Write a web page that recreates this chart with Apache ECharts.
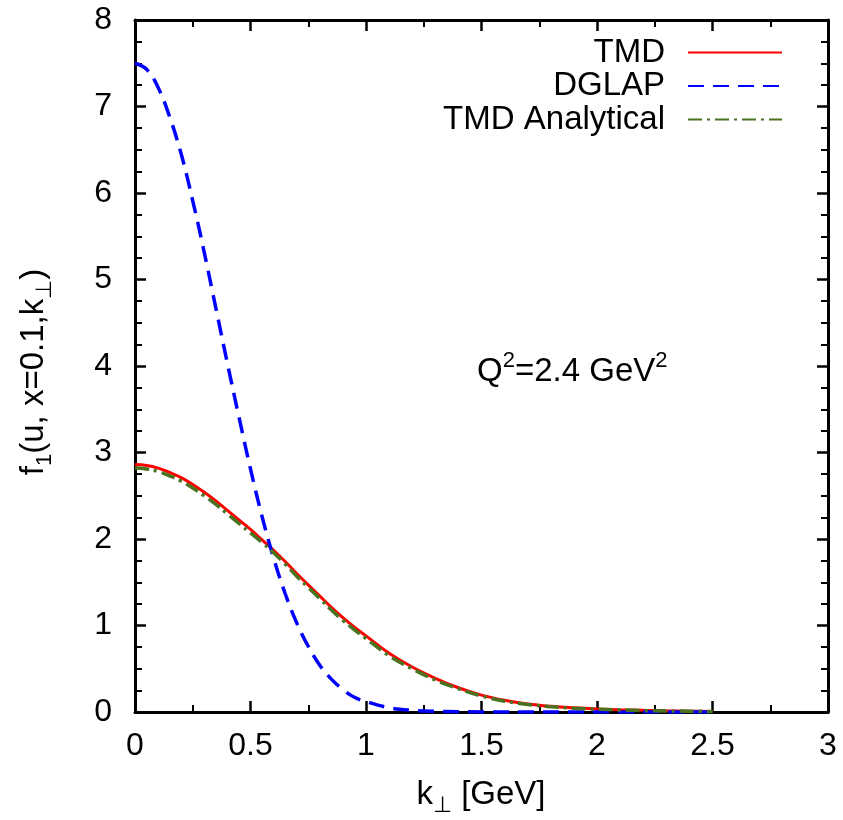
<!DOCTYPE html>
<html>
<head>
<meta charset="utf-8">
<script src="https://cdn.jsdelivr.net/npm/echarts@6/dist/echarts.min.js"></script>
<style>
html,body{margin:0;padding:0;background:#fff;}
#chart{width:843px;height:820px;}
</style>
</head>
<body>
<div id="chart"></div>
<script>
// k_perp values [GeV]
const kVals = [0,0.05,0.1,0.15,0.2,0.25,0.3,0.35,0.4,0.45,0.5,0.55,0.6,0.65,0.7,0.75,0.8,0.85,0.9,0.95,1.0,
               1.1,1.2,1.3,1.4,1.5,1.6,1.7,1.8,1.9,2.0,2.1,2.2,2.3,2.4,2.5];
// TMD (red solid)
const tmdVals = [2.86,2.85,2.82,2.77,2.71,2.63,2.54,2.44,2.33,2.22,2.11,1.99,1.87,1.74,1.60,1.47,1.34,1.21,1.09,0.98,0.88,
                 0.68,0.52,0.39,0.28,0.195,0.135,0.093,0.066,0.048,0.035,0.026,0.019,0.014,0.010,0.007];
// DGLAP (blue dashed)
const dglapVals = [7.50,7.43,7.22,6.88,6.45,5.91,5.31,4.67,4.03,3.41,2.81,2.26,1.78,1.37,1.03,0.76,0.54,0.38,0.26,0.17,0.12,
                   0.05,0.02,0.008,0.003,0.001,0,0,0,0,0,0,0,0,0,0];
// TMD Analytical (green dash-dot)
const anaVals = [2.82,2.81,2.78,2.73,2.67,2.59,2.50,2.40,2.29,2.18,2.07,1.96,1.84,1.71,1.57,1.44,1.31,1.18,1.06,0.95,0.85,
                 0.65,0.50,0.37,0.27,0.185,0.125,0.087,0.061,0.044,0.032,0.024,0.017,0.012,0.009,0.006];
const seriesNames = ['TMD','DGLAP','TMD Analytical'];
const xTicks = [0,0.5,1,1.5,2,2.5,3];
const yTicks = [0,1,2,3,4,5,6,7,8];

const FONT = "'Liberation Sans', Arial, Helvetica, sans-serif";
const pairs = (ys) => kVals.map((k,i) => [k, ys[i]]);

const richStyles = {
  m: {fontSize: 33, fontFamily: FONT, color: '#000', lineHeight: 46},
  s: {fontSize: 22, fontFamily: FONT, color: '#000', lineHeight: 46, padding: [21,0,0,0]},
  p: {fontSize: 22, fontFamily: FONT, color: '#000', lineHeight: 46, padding: [0,0,23,0]}
};

const axisCommon = {
  type: 'value',
  axisLine: {show: true, onZero: false, lineStyle: {color: '#000', width: 3}},
  axisTick: {show: true, inside: true, length: 11, lineStyle: {color: '#000', width: 2.5}},
  minorTick: {show: true, length: 7, lineStyle: {color: '#000', width: 2}},
  splitLine: {show: false},
  minorSplitLine: {show: false}
};

const chart = echarts.init(document.getElementById('chart'), null, {renderer: 'canvas'});
chart.setOption({
  animation: false,
  backgroundColor: '#fff',
  grid: {left: 135, right: 15, top: 20, bottom: 108, containLabel: false},
  xAxis: [
    Object.assign({}, axisCommon, {
      position: 'bottom', min: xTicks[0], max: xTicks[xTicks.length-1], interval: 0.5,
      minorTick: Object.assign({}, axisCommon.minorTick, {splitNumber: 2}),
      axisLabel: {show: true, margin: 18, fontSize: 32, fontFamily: FONT, color: '#000',
                  formatter: (v) => String(v)}
    }),
    Object.assign({}, axisCommon, {
      position: 'top', min: xTicks[0], max: xTicks[xTicks.length-1], interval: 0.5,
      minorTick: Object.assign({}, axisCommon.minorTick, {splitNumber: 2}),
      axisLabel: {show: false}
    })
  ],
  yAxis: [
    Object.assign({}, axisCommon, {
      position: 'left', min: yTicks[0], max: yTicks[yTicks.length-1], interval: 1,
      minorTick: Object.assign({}, axisCommon.minorTick, {splitNumber: 4}),
      axisLabel: {show: true, margin: 23, fontSize: 32, fontFamily: FONT, color: '#000'}
    }),
    Object.assign({}, axisCommon, {
      position: 'right', min: yTicks[0], max: yTicks[yTicks.length-1], interval: 1,
      minorTick: Object.assign({}, axisCommon.minorTick, {splitNumber: 4}),
      axisLabel: {show: false}
    })
  ],
  legend: {
    orient: 'vertical', right: 55, top: 31, align: 'right',
    itemWidth: 94, itemHeight: 24, itemGap: 0.5,
    itemStyle: {opacity: 0},
    textStyle: {fontSize: 33, fontFamily: FONT, color: '#000', padding: [0, 18, 0, 0]},
    data: seriesNames
  },
  series: [
    {name: seriesNames[0], type: 'line', data: pairs(tmdVals), symbol: 'none', smooth: 0.4,
     lineStyle: {color: '#ff0000', width: 3}, itemStyle: {color: '#ff0000'}},
    {name: seriesNames[1], type: 'line', data: pairs(dglapVals), symbol: 'none', smooth: 0.4,
     lineStyle: {color: '#0000ff', width: 3.5, type: [16, 9]}, itemStyle: {color: '#0000ff'}},
    {name: seriesNames[2], type: 'line', data: pairs(anaVals), symbol: 'none', smooth: 0.4,
     lineStyle: {color: '#4a7320', width: 3.5, type: [14, 5, 3, 5]}, itemStyle: {color: '#4a7320'}}
  ],
  graphic: [
    {type: 'text', x: 34, y: 372, rotation: Math.PI/2,
     style: {text: '{m|f}{s|1}{m|(u, x=0.1,k}{s|⊥}{m|)}', rich: richStyles, align: 'center', verticalAlign: 'middle'}},
    {type: 'text', x: 481, y: 795,
     style: {text: '{m|k}{s|⊥}{m| [GeV]}', rich: richStyles, align: 'center', verticalAlign: 'middle'}},
    {type: 'text', x: 477, y: 372,
     style: {text: '{m|Q}{p|2}{m|=2.4 GeV}{p|2}', rich: richStyles, align: 'left', verticalAlign: 'middle'}}
  ]
});
</script>
</body>
</html>
